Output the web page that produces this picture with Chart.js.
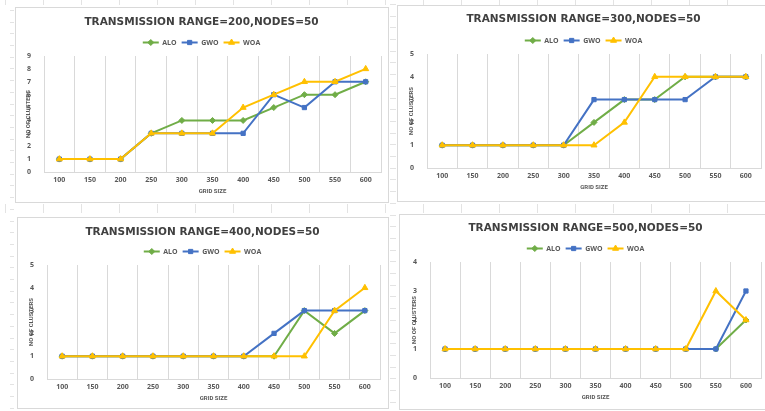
<!DOCTYPE html>
<html>
<head>
<meta charset="utf-8">
<script src="https://cdn.jsdelivr.net/npm/chart.js@4/dist/chart.umd.min.js"></script>
<style>
html, body { margin:0; padding:0; width:765px; height:411px; overflow:hidden; background:#fff; }
.strip { position:absolute; }
.rows { background-image: repeating-linear-gradient(180deg, #e3e3e3 0, #e3e3e3 1px, transparent 1px, transparent 11.7px); }
.cols { background-image: repeating-linear-gradient(90deg, #e3e3e3 0, #e3e3e3 1px, transparent 1px, transparent 38px); }
.box { position:absolute; background:#fff; border:1px solid #d9d9d9; box-sizing:border-box; }
.box canvas { display:block; }
</style>
</head>
<body>
<div class="strip rows" style="left:10px;top:10px;width:4px;height:401px"></div>
<div class="strip rows" style="left:390px;top:4px;width:6px;height:407px"></div>
<div class="strip cols" style="left:5px;top:0;width:760px;height:5px"></div>
<div class="strip cols" style="left:5px;top:204px;width:760px;height:9px"></div>

<div class="box" id="b1" style="left:15px;top:7px;width:374px;height:196px"><canvas id="c1" width="372" height="194"></canvas></div>
<div class="box" id="b2" style="left:397px;top:5px;width:370px;height:197px"><canvas id="c2" width="368" height="195"></canvas></div>
<div class="box" id="b3" style="left:17px;top:217px;width:372px;height:192px"><canvas id="c3" width="370" height="190"></canvas></div>
<div class="box" id="b4" style="left:399px;top:214px;width:368px;height:196px"><canvas id="c4" width="366" height="194"></canvas></div>

<script>
// grid size categories
var gridSizes = ["100", "150", "200", "250", "300", "350", "400", "450", "500", "550", "600"];
var seriesNames = ["ALO", "GWO", "WOA"];
var seriesColors = ["#70AD47", "#4472C4", "#FFC000"];
var markerStyles = ["rectRot", "rect", "triangle"];

// transmission range = 200
var alo200 = [1, 1, 1, 3, 4, 4, 4, 5, 6, 6, 7];
var gwo200 = [1, 1, 1, 3, 3, 3, 3, 6, 5, 7, 7];
var woa200 = [1, 1, 1, 3, 3, 3, 5, 6, 7, 7, 8];

// transmission range = 300
var alo300 = [1, 1, 1, 1, 1, 2, 3, 3, 4, 4, 4];
var gwo300 = [1, 1, 1, 1, 1, 3, 3, 3, 3, 4, 4];
var woa300 = [1, 1, 1, 1, 1, 1, 2, 4, 4, 4, 4];

// transmission range = 400
var alo400 = [1, 1, 1, 1, 1, 1, 1, 1, 3, 2, 3];
var gwo400 = [1, 1, 1, 1, 1, 1, 1, 2, 3, 3, 3];
var woa400 = [1, 1, 1, 1, 1, 1, 1, 1, 1, 3, 4];

// transmission range = 500
var alo500 = [1, 1, 1, 1, 1, 1, 1, 1, 1, 1, 2];
var gwo500 = [1, 1, 1, 1, 1, 1, 1, 1, 1, 1, 3];
var woa500 = [1, 1, 1, 1, 1, 1, 1, 1, 1, 3, 2];

var Y_W = 22, X_H = 26, LEGEND_PAD = 5, TITLE_SIZE = 10.5;
var textColor = "#595959";
var tickFont = {family: "Open Sans", size: 7, weight: "bold"};
var axisTitleFont = {family: "Roboto", size: 6, weight: "bold"};

// draws the series marker on top of each legend line
var legendMarkers = {
	id: "legendMarkers",
	afterDraw: function(chart){
		var legend = chart.legend;
		if(!legend || !legend.legendHitBoxes) return;
		var ctx = chart.ctx;
		var bw = legend.options.labels.boxWidth;
		legend.legendItems.forEach(function(item, i){
			var hb = legend.legendHitBoxes[i];
			var ds = chart.data.datasets[item.datasetIndex];
			ctx.save();
			ctx.fillStyle = ds.pointBackgroundColor;
			ctx.strokeStyle = ds.pointBorderColor;
			ctx.lineWidth = 1;
			Chart.helpers.drawPoint(ctx, {pointStyle: ds.pointStyle, radius: ds.pointRadius, rotation: 0, borderWidth: 1},
				hb.left + bw / 2, hb.top + hb.height / 2);
			ctx.restore();
		});
	}
};

function makeChart(id, title, yMax, values, plot, titleY){
	var canvas = document.getElementById(id);
	var w = canvas.width, h = canvas.height;
	var lh = TITLE_SIZE * 1.2;
	var legendTop = plot.t - (7 + LEGEND_PAD + 10);

	var datasets = [];
	for(var i = 0; i < seriesNames.length; i++){
		datasets.push({
			label: seriesNames[i],
			data: values[i],
			borderColor: seriesColors[i],
			backgroundColor: seriesColors[i],
			pointBackgroundColor: seriesColors[i],
			pointBorderColor: seriesColors[i],
			pointStyle: markerStyles[i],
			pointRadius: markerStyles[i] == "triangle" ? 3.5 : 3,
			pointBorderWidth: 1,
			borderWidth: 2,
			tension: 0,
			order: seriesNames.length - i
		});
	}

	return new Chart(canvas, {
		type: "line",
		data: {labels: gridSizes, datasets: datasets},
		plugins: [legendMarkers],
		options: {
			responsive: false,
			animation: false,
			devicePixelRatio: 1,
			layout: {padding: {left: plot.l - Y_W, right: w - plot.r, top: 0, bottom: h - plot.b - X_H}},
			plugins: {
				tooltip: {enabled: false},
				title: {
					display: true,
					text: title,
					color: "#404040",
					font: {family: "DejaVu Sans", size: TITLE_SIZE, weight: "bold"},
					padding: {top: titleY - lh / 2, bottom: legendTop - (titleY + lh / 2)}
				},
				legend: {
					position: "top",
					labels: {
						boxWidth: 16,
						boxHeight: 2,
						padding: LEGEND_PAD,
						color: textColor,
						font: tickFont,
						sort: function(a, b){ return a.datasetIndex - b.datasetIndex; },
						generateLabels: function(chart){
							return Chart.defaults.plugins.legend.labels.generateLabels(chart).map(function(l){
								l.lineWidth = 0;
								return l;
							});
						}
					}
				}
			},
			scales: {
				x: {
					offset: true,
					grid: {offset: true, color: "#d9d9d9", drawTicks: false},
					border: {color: "#d9d9d9"},
					ticks: {padding: 4, color: textColor, font: tickFont, maxRotation: 0, autoSkip: false},
					title: {display: true, text: "GRID SIZE", color: textColor, font: axisTitleFont, padding: {top: 0, bottom: 2.8}},
					afterFit: function(s){ s.height = X_H; }
				},
				y: {
					min: 0,
					max: yMax,
					grid: {display: false},
					border: {display: false},
					ticks: {stepSize: 1, padding: 5, color: textColor, font: tickFont},
					title: {display: true, text: "NO OF CLUSTERS", color: textColor, font: axisTitleFont, padding: {top: 3, bottom: 0}},
					afterFit: function(s){ s.width = Y_W; }
				}
			}
		}
	});
}

makeChart("c1", "TRANSMISSION RANGE=200,NODES=50", 9, [alo200, gwo200, woa200], {l: 28, r: 365, t: 48, b: 164}, 14);
makeChart("c2", "TRANSMISSION RANGE=300,NODES=50", 5, [alo300, gwo300, woa300], {l: 29, r: 364, t: 48, b: 162}, 13);
makeChart("c3", "TRANSMISSION RANGE=400,NODES=50", 5, [alo400, gwo400, woa400], {l: 29, r: 362, t: 47, b: 161}, 14);
makeChart("c4", "TRANSMISSION RANGE=500,NODES=50", 4, [alo500, gwo500, woa500], {l: 30, r: 363, t: 47, b: 163}, 13);
</script>
</body>
</html>
